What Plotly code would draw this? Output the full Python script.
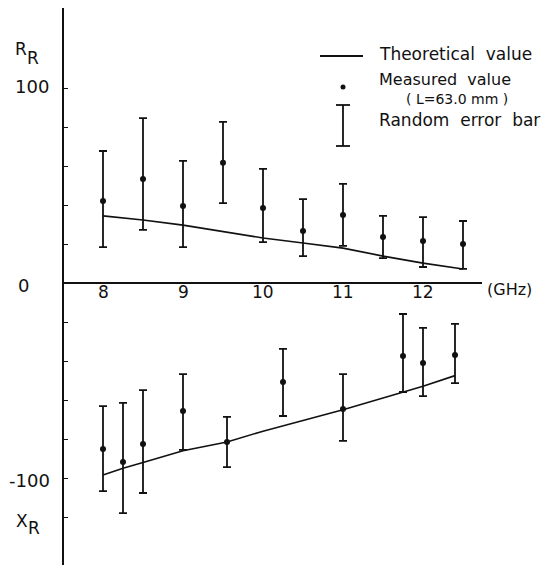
import plotly.graph_objects as go

# ---------------- data ----------------
# Upper panel: R_R
freq_R = [8.0, 8.5, 9.0, 9.5, 10.0, 10.5, 11.0, 11.5, 12.0, 12.5]
R_meas = [42.0, 53.3, 39.5, 61.7, 38.5, 26.7, 34.9, 23.6, 21.5, 20.0]
R_upper = [67.7, 84.6, 62.6, 82.6, 58.5, 43.0, 50.8, 34.4, 33.8, 31.8]
R_lower = [18.4, 27.2, 18.4, 41.0, 21.0, 13.8, 19.0, 12.8, 8.2, 7.2]
R_theory = [34.4, 32.3, 29.7, 26.5, 23.1, 20.5, 17.9, 13.8, 10.2, 7.2]

# Lower panel: X_R
freq_X = [8.0, 8.25, 8.5, 9.0, 9.55, 10.25, 11.0, 11.75, 12.0, 12.4]
X_meas = [-85.1, -91.8, -82.6, -65.6, -81.5, -50.8, -64.6, -37.4, -41.0, -36.9]
X_upper = [-63.1, -61.5, -54.9, -46.7, -68.7, -33.8, -46.7, -15.9, -23.0, -21.0]
X_lower = [-106.7, -118.0, -107.7, -85.6, -94.4, -68.2, -81.0, -55.9, -58.0, -51.3]
freq_Xt = [8.0, 8.25, 8.5, 9.0, 9.55, 10.0, 10.5, 11.0, 11.5, 11.75, 12.0, 12.4]
X_theory = [-98.5, -95.0, -92.0, -86.0, -81.5, -76.0, -70.5, -65.0, -59.0, -56.0, -53.0, -47.5]

x_ticks = [8, 9, 10, 11, 12]
y_ticks = [-120, -100, -80, -60, -40, -20, 20, 40, 60, 80, 100]

# ---------------- layout helpers ----------------
W, H = 552, 565
L, T, R_, B = 64, 8, 70, 0
PW, PH = W - L - R_, H - T - B


def px(x):
    return (x - L) / PW


def py(y):
    return 1 - (y - T) / PH


BLACK = "#111111"
FONT = "DejaVu Sans"

fig = go.Figure()

# theoretical lines
fig.add_trace(go.Scatter(x=freq_R, y=R_theory, mode="lines",
                         line=dict(color=BLACK, width=1.6), showlegend=False))
fig.add_trace(go.Scatter(x=freq_Xt, y=X_theory, mode="lines",
                         line=dict(color=BLACK, width=1.6), showlegend=False))

# measured with error bars
for f, m, up, lo in [(freq_R, R_meas, R_upper, R_lower),
                     (freq_X, X_meas, X_upper, X_lower)]:
    fig.add_trace(go.Scatter(
        x=f, y=m, mode="markers",
        marker=dict(color=BLACK, size=6),
        error_y=dict(type="data", symmetric=False,
                     array=[u - v for u, v in zip(up, m)],
                     arrayminus=[v - l for v, l in zip(m, lo)],
                     color=BLACK, thickness=1.8, width=4),
        showlegend=False))


def txt(text, x, y, size, anchor="left", family=FONT):
    return dict(x=px(x), y=py(y), xref="paper", yref="paper", text=text,
                showarrow=False, xanchor=anchor, yanchor="middle",
                font=dict(family=family, size=size, color=BLACK))


annotations = []
# x tick labels
for t in x_ticks:
    annotations.append(dict(x=t, y=py(292), xref="x", yref="paper", text=str(t),
                            showarrow=False, xanchor="center", yanchor="middle",
                            font=dict(family=FONT, size=17, color=BLACK)))
annotations.append(txt("(GHz)", 485, 290, 16))
# y labels
annotations.append(txt("100", 13, 86, 18))
annotations.append(txt("0", 16, 285, 18))
annotations.append(txt("-100", 7, 480, 18))
annotations.append(txt("R", 21, 49, 17, "center"))
annotations.append(txt("R", 33, 58, 17, "center"))
annotations.append(txt("X", 22, 521, 17, "center"))
annotations.append(txt("R", 34, 528, 17, "center"))
# legend text
annotations.append(txt("Theoretical  value", 377, 54, 17))
annotations.append(txt("Measured  value", 377, 79, 16))
annotations.append(txt("( L=63.0 mm )", 404, 99, 14))
annotations.append(txt("Random  error  bar", 377, 120, 17))

shapes = [
    # legend line
    dict(type="line", xref="paper", yref="paper", x0=px(320), x1=px(363), y0=py(56), y1=py(56),
         line=dict(color=BLACK, width=2)),
    # legend dot
    dict(type="circle", xref="paper", yref="paper", x0=px(340.5), x1=px(345.5), y0=py(84.5), y1=py(89.5),
         fillcolor=BLACK, line=dict(color=BLACK, width=0)),
    # legend error bar
    dict(type="line", xref="paper", yref="paper", x0=px(343), x1=px(343), y0=py(105), y1=py(146),
         line=dict(color=BLACK, width=1.8)),
    dict(type="line", xref="paper", yref="paper", x0=px(336), x1=px(350), y0=py(105), y1=py(105),
         line=dict(color=BLACK, width=1.8)),
    dict(type="line", xref="paper", yref="paper", x0=px(336), x1=px(350), y0=py(146), y1=py(146),
         line=dict(color=BLACK, width=1.8)),
]

x_lo = 8 - (103 - L) / 80.0
x_hi = x_lo + PW / 80.0
y_top = (283 - T) / 1.95
y_bot = (283 - H) / 1.95

fig.update_layout(
    width=W, height=H,
    margin=dict(l=L, r=R_, t=T, b=B),
    paper_bgcolor="white", plot_bgcolor="white",
    xaxis=dict(range=[x_lo, x_hi], visible=False),
    yaxis=dict(range=[y_bot, y_top], showgrid=False, showline=True, linecolor=BLACK,
               linewidth=2, ticks="inside", ticklen=4, tickcolor=BLACK, tickwidth=1,
               tickvals=y_ticks, showticklabels=False,
               zeroline=True, zerolinecolor=BLACK, zerolinewidth=2),
    annotations=annotations,
    shapes=shapes,
    showlegend=False,
)

fig.write_html("out.html")
